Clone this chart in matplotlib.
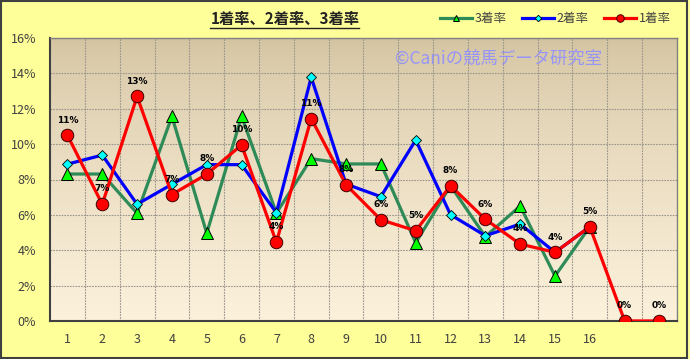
import numpy as np
import matplotlib
matplotlib.use("Agg")
import matplotlib.pyplot as plt
from matplotlib.lines import Line2D
from matplotlib.patches import Rectangle

plt.rcParams['font.family'] = ['Noto Sans CJK JP', 'DejaVu Sans']

# data (percent)
categories = ["1", "2", "3", "4", "5", "6", "7", "8", "9", "10",
              "11", "12", "13", "14", "15", "16", "", ""]
win = [10.5, 6.6, 12.7, 7.15, 8.3, 9.95, 4.45, 11.45, 7.7, 5.72,
       5.1, 7.65, 5.75, 4.35, 3.88, 5.33, 0.0, 0.0]
win_labels = ["11%", "7%", "13%", "7%", "8%", "10%", "4%", "11%", "8%", "6%",
              "5%", "8%", "6%", "4%", "4%", "5%", "0%", "0%"]
second = [8.87, 9.38, 6.6, 7.73, 8.84, 8.84, 6.12, 13.78, 7.74, 7.03,
          10.23, 6.01, 4.82, 5.48, 3.88, 5.33]
third = [8.31, 8.31, 6.09, 11.57, 4.96, 11.57, 6.1, 9.18, 8.88, 8.88,
         4.42, 7.65, 4.77, 6.5, 2.54, 5.33]
yticks = [0, 2, 4, 6, 8, 10, 12, 14, 16]

fig = plt.figure(figsize=(6.9, 3.59), dpi=100, facecolor="#FFFF99")
ax = fig.add_axes([0.0725, 0.106, 0.9085, 0.788])

n = len(categories)
x = np.arange(1, n + 1)

# gradient background for plot area
c_top = np.array([0.827, 0.765, 0.627])
c_bot = np.array([0.988, 0.945, 0.860])
t = np.linspace(0, 1, 256) ** 0.7
grad = c_top[None, :] * (1 - t[:, None]) + c_bot[None, :] * t[:, None]
ax.imshow(grad[:, None, :], extent=[0.5, n + 0.5, 0, 16], aspect="auto",
          zorder=0, origin="upper")

ax.set_xlim(0.5, n + 0.5)
ax.set_ylim(0, 16)

# grid
for yv in yticks[1:-1]:
    ax.axhline(yv, color="#9a958c", lw=0.8, ls=(0, (1.5, 1)), zorder=1)
for xv in np.arange(1.5, n, 1):
    ax.axvline(xv, color="#9a958c", lw=0.8, ls=(0, (1.5, 1)), zorder=1)

ax.plot(x[:len(third)], third, color="#2E8B57", lw=2.3, marker="^",
        ms=8, mfc="#00FF00", mec="black", mew=0.7, zorder=3, label="3着率")
ax.plot(x[:len(second)], second, color="#0000FF", lw=2.3, marker="D",
        ms=5.5, mfc="#00FFFF", mec="black", mew=0.6, zorder=4, label="2着率")
ax.plot(x, win, color="#FF0000", lw=2.3, marker="o",
        ms=9, mfc="#FF0000", mec="#400000", mew=0.7, zorder=5, label="1着率")

for xi, yi, lab in zip(x, win, win_labels):
    ax.annotate(lab, (xi, yi), xytext=(0, 11), textcoords="offset points",
                ha="center", va="center", fontsize=6.5, fontweight="bold",
                family="DejaVu Sans", color="black", zorder=6)

ax.set_yticks(yticks)
ax.set_yticklabels([f"{v}%" for v in yticks])
ax.set_xticks(x)
ax.set_xticklabels(categories)
ax.tick_params(axis="both", length=0, labelsize=9, colors="#404040")
ax.tick_params(axis="x", pad=9)
ax.tick_params(axis="y", pad=10)

for side in ["top", "right"]:
    ax.spines[side].set_color("#808080")
    ax.spines[side].set_linewidth(1)
for side in ["left", "bottom"]:
    ax.spines[side].set_color("#404040")
    ax.spines[side].set_linewidth(1.5)

# watermark
ax.text(0.715, 0.925, "©Caniの競馬データ研究室", transform=ax.transAxes,
        ha="center", va="center", fontsize=12.5, color="#8F8FFF",
        alpha=0.9, zorder=2)

# title with underline
title = fig.text(0.413, 0.948, "1着率、2着率、3着率", ha="center", va="center",
                 fontsize=11, fontweight="bold", color="#222222")
fig.canvas.draw()
bb = title.get_window_extent().transformed(fig.transFigure.inverted())
fig.add_artist(Line2D([bb.x0, bb.x1], [bb.y0 - 0.005, bb.y0 - 0.005],
                      transform=fig.transFigure, color="#222222", lw=1))

handles, labels = ax.get_legend_handles_labels()
fig.legend(handles, labels, loc="center", bbox_to_anchor=(0.805, 0.948),
           ncol=3, frameon=False, fontsize=9, handlelength=2.6,
           handletextpad=0.2, columnspacing=1.2, labelcolor="#404040",
           markerscale=0.6)

# outer border
fig.add_artist(Rectangle((0.002, 0.003), 0.994, 0.993, transform=fig.transFigure,
                         fill=False, ec="#404040", lw=1.5))

fig.savefig("out.png", dpi=100, facecolor=fig.get_facecolor())
